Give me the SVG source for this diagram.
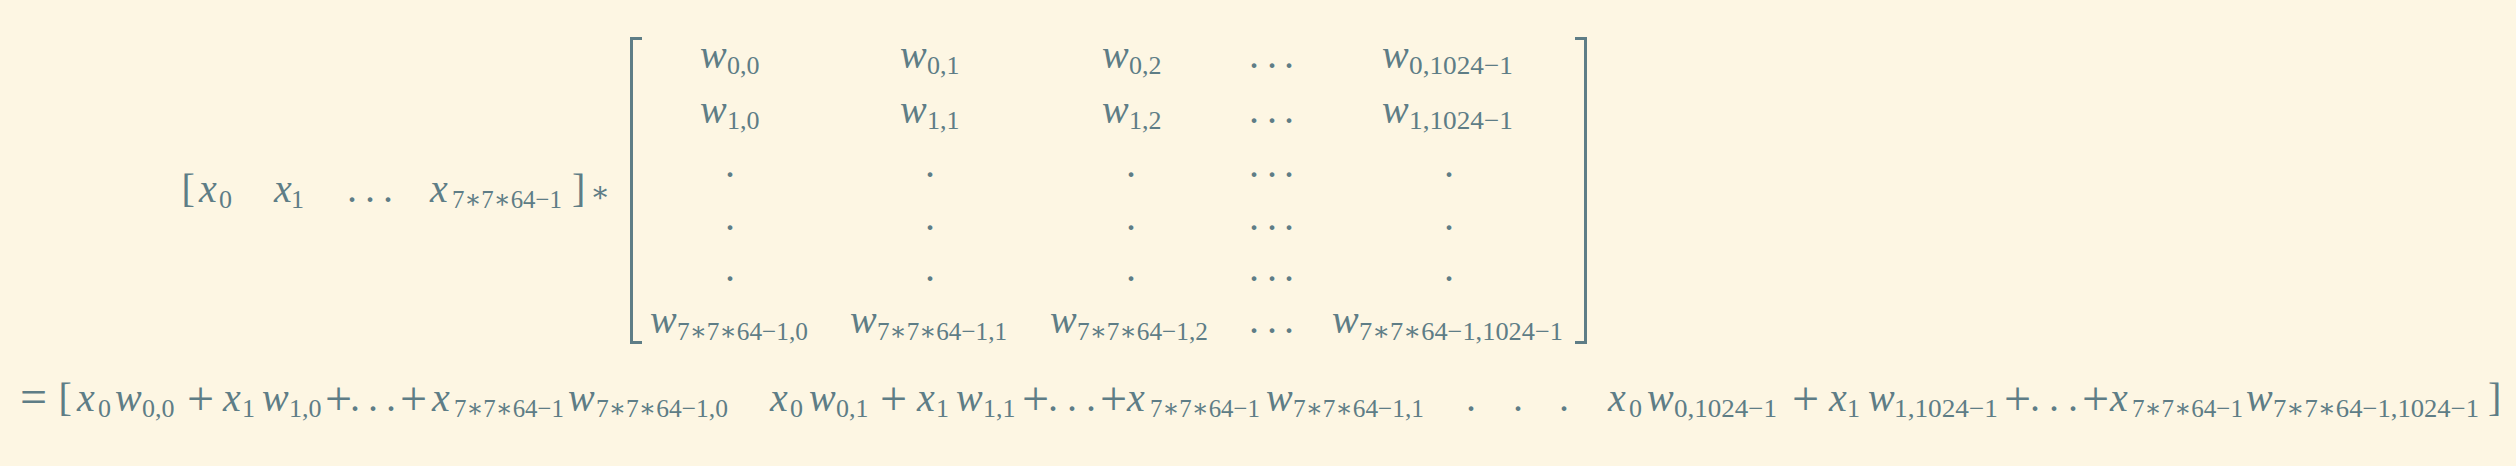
<svg xmlns="http://www.w3.org/2000/svg" width="2516" height="466" viewBox="0 0 2516 466">
<style>
text{font-family:"Liberation Serif","DejaVu Serif",serif;font-size:40px;fill:#5e7d86}
.i{font-style:italic}
.s{font-size:26px}
.op{font-size:48px}
.ast{font-size:29px;text-anchor:middle}
.br{fill:none;stroke:#5e7d86;stroke-width:3}
</style>
<rect width="2516" height="466" fill="#fdf6e3"/>
<g id="row-vector">
<text x="181.5" y="202">[</text>
<text y="202"><tspan x="199" class="i">x</tspan><tspan x="219" y="208" class="s">0</tspan></text>
<text y="202"><tspan x="274" class="i">x</tspan><tspan x="291" y="208" class="s">1</tspan></text>
<text x="347 365 383" y="202">...</text>
<text y="202"><tspan x="430" class="i">x</tspan><tspan x="452" y="208" class="s" textLength="110" lengthAdjust="spacingAndGlyphs">7∗7∗64−1</tspan><tspan x="572" y="202">]</tspan></text>
<text x="600" y="202" class="ast">∗</text>
</g>
<g id="matrix">
<path class="br" d="M642,38.5 H631.5 V342.5 H642"/>
<path class="br" d="M1575,38.5 H1585.5 V342.5 H1575"/>
<text y="68"><tspan x="700" class="i">w</tspan><tspan x="727" y="74" class="s">0,0</tspan></text>
<text y="68"><tspan x="900" class="i">w</tspan><tspan x="927" y="74" class="s">0,1</tspan></text>
<text y="68"><tspan x="1102" class="i">w</tspan><tspan x="1129" y="74" class="s">0,2</tspan></text>
<text x="1249 1267 1284" y="68">...</text>
<text y="68"><tspan x="1382" class="i">w</tspan><tspan x="1409" y="74" class="s" textLength="104" lengthAdjust="spacingAndGlyphs">0,1024−1</tspan></text>
<text y="123"><tspan x="700" class="i">w</tspan><tspan x="727" y="129" class="s">1,0</tspan></text>
<text y="123"><tspan x="900" class="i">w</tspan><tspan x="927" y="129" class="s">1,1</tspan></text>
<text y="123"><tspan x="1102" class="i">w</tspan><tspan x="1129" y="129" class="s">1,2</tspan></text>
<text x="1249 1267 1284" y="123">...</text>
<text y="123"><tspan x="1382" class="i">w</tspan><tspan x="1409" y="129" class="s" textLength="104" lengthAdjust="spacingAndGlyphs">1,1024−1</tspan></text>
<text x="725" y="177">.</text><text x="925" y="177">.</text><text x="1126" y="177">.</text><text x="1249 1267 1284" y="177">...</text><text x="1444" y="177">.</text>
<text x="725" y="230">.</text><text x="925" y="230">.</text><text x="1126" y="230">.</text><text x="1249 1267 1284" y="230">...</text><text x="1444" y="230">.</text>
<text x="725" y="281">.</text><text x="925" y="281">.</text><text x="1126" y="281">.</text><text x="1249 1267 1284" y="281">...</text><text x="1444" y="281">.</text>
<text y="333"><tspan x="650" class="i">w</tspan><tspan x="677" y="340" class="s" textLength="131" lengthAdjust="spacingAndGlyphs">7∗7∗64−1,0</tspan></text>
<text y="333"><tspan x="850" class="i">w</tspan><tspan x="877" y="340" class="s" textLength="130" lengthAdjust="spacingAndGlyphs">7∗7∗64−1,1</tspan></text>
<text y="333"><tspan x="1050" class="i">w</tspan><tspan x="1077" y="340" class="s" textLength="131" lengthAdjust="spacingAndGlyphs">7∗7∗64−1,2</tspan></text>
<text x="1249 1267 1284" y="333">...</text>
<text y="333"><tspan x="1332" class="i">w</tspan><tspan x="1359" y="340" class="s" textLength="204" lengthAdjust="spacingAndGlyphs">7∗7∗64−1,1024−1</tspan></text>
</g>
<g id="result">
<text x="20" y="413" class="op">=</text>
<text x="58.5" y="411">[</text>
<text y="411"><tspan x="77" class="i">x</tspan><tspan x="98" y="417" class="s">0</tspan><tspan x="115" y="411" class="i">w</tspan><tspan x="142" y="417" class="s">0,0</tspan></text>
<text x="187" y="415" class="op">+</text>
<text y="411"><tspan x="223" class="i">x</tspan><tspan x="242" y="417" class="s">1</tspan><tspan x="262" y="411" class="i">w</tspan><tspan x="289" y="417" class="s">1,0</tspan></text>
<text x="325" y="415" class="op">+</text>
<text x="350 368 386" y="411">...</text>
<text x="400" y="415" class="op">+</text>
<text y="411"><tspan x="432" class="i">x</tspan><tspan x="454" y="417" class="s" textLength="110" lengthAdjust="spacingAndGlyphs">7∗7∗64−1</tspan><tspan x="568" y="411" class="i">w</tspan><tspan x="596" y="417" class="s" textLength="132" lengthAdjust="spacingAndGlyphs">7∗7∗64−1,0</tspan></text>
<text y="411"><tspan x="770" class="i">x</tspan><tspan x="790" y="417" class="s">0</tspan><tspan x="809" y="411" class="i">w</tspan><tspan x="836" y="417" class="s">0,1</tspan></text>
<text x="880" y="415" class="op">+</text>
<text y="411"><tspan x="917" class="i">x</tspan><tspan x="936" y="417" class="s">1</tspan><tspan x="956" y="411" class="i">w</tspan><tspan x="983" y="417" class="s">1,1</tspan></text>
<text x="1022" y="415" class="op">+</text>
<text x="1048 1067 1086" y="411">...</text>
<text x="1100" y="415" class="op">+</text>
<text y="411"><tspan x="1127" class="i">x</tspan><tspan x="1150" y="417" class="s" textLength="110" lengthAdjust="spacingAndGlyphs">7∗7∗64−1</tspan><tspan x="1266" y="411" class="i">w</tspan><tspan x="1293" y="417" class="s" textLength="131" lengthAdjust="spacingAndGlyphs">7∗7∗64−1,1</tspan></text>
<text x="1466 1513 1559" y="411">...</text>
<text y="411"><tspan x="1608" class="i">x</tspan><tspan x="1629" y="417" class="s">0</tspan><tspan x="1647" y="411" class="i">w</tspan><tspan x="1674" y="417" class="s" textLength="103" lengthAdjust="spacingAndGlyphs">0,1024−1</tspan></text>
<text x="1792" y="415" class="op">+</text>
<text y="411"><tspan x="1829" class="i">x</tspan><tspan x="1847" y="417" class="s">1</tspan><tspan x="1868" y="411" class="i">w</tspan><tspan x="1894" y="417" class="s" textLength="104" lengthAdjust="spacingAndGlyphs">1,1024−1</tspan></text>
<text x="2004" y="415" class="op">+</text>
<text x="2030 2049 2068" y="411">...</text>
<text x="2082" y="415" class="op">+</text>
<text y="411"><tspan x="2110" class="i">x</tspan><tspan x="2132" y="417" class="s" textLength="111" lengthAdjust="spacingAndGlyphs">7∗7∗64−1</tspan><tspan x="2246" y="411" class="i">w</tspan><tspan x="2273" y="417" class="s" textLength="206" lengthAdjust="spacingAndGlyphs">7∗7∗64−1,1024−1</tspan><tspan x="2488" y="411">]</tspan></text>
</g>
</svg>
